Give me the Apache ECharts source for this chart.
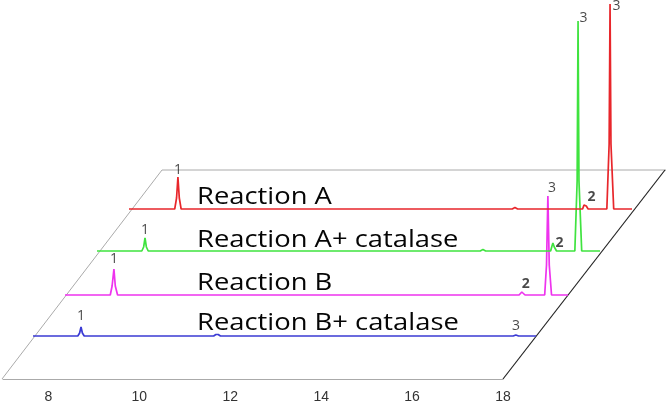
<!DOCTYPE html>
<html>
<head>
<meta charset="utf-8">
<script src="https://cdn.jsdelivr.net/npm/echarts@6/dist/echarts.min.js"></script>
<style>html,body{margin:0;padding:0;background:#fff;}#c{width:666px;height:404px;}</style>
</head>
<body>
<div id="c"></div>
<script>
// ---- data ----
var traceNames = ['Reaction B+ catalase', 'Reaction B', 'Reaction A+ catalase', 'Reaction A'];
var timeRange = [7, 18];
var tickLabels = [8, 10, 12, 14, 16, 18];

var blueTrace = [[7,0],[7.98,0],[8.02,3],[8.05,9],[8.08,3],[8.12,0],[10.95,0],[11.0,1.5],[11.05,1.5],[11.1,0],[17.5,0],[17.56,1],[17.62,0],[18,0]];
var magentaTrace = [[7,0],[7.99,0],[8.03,9],[8.07,26],[8.1,9],[8.15,0],[16.93,0],[16.97,2],[16.99,3],[17.02,1],[17.06,0],[17.49,0],[17.53,30],[17.56,99],[17.59,30],[17.64,0],[18,0]];
var greenTrace = [[7,0],[7.98,0],[8.02,4],[8.05,13],[8.08,4],[8.12,0],[15.38,0],[15.44,1.5],[15.5,0],[16.92,0],[16.95,5],[16.97,8],[17.0,4],[17.05,0],[17.45,0],[17.50,70],[17.52,230],[17.54,70],[17.6,0],[18,0]];
var redTrace = [[7,0],[8.0,0],[8.04,11],[8.07,32],[8.1,11],[8.14,0],[15.38,0],[15.44,1.5],[15.5,0],[16.92,0],[16.95,4],[16.97,6],[17.0,3],[17.04,0],[17.45,0],[17.50,65],[17.52,205],[17.54,65],[17.6,0],[18,0]];

// peak labels: [time, apex height, text]
var bluePeaks = [[8.05, 9, '1'], [17.56, 1, '3']];
var magentaPeaks = [[8.07, 26, '1'], [16.99, 3, '2'], [17.56, 99, '3']];
var greenPeaks = [[8.05, 13, '1'], [16.97, 8, '2'], [17.52, 230, '3']];
var redPeaks = [[8.07, 32, '1'], [16.97, 6, '2'], [17.52, 205, '3']];

// ---- layout / style ----
var traces = [blueTrace, magentaTrace, greenTrace, redTrace];
var peaks = [bluePeaks, magentaPeaks, greenPeaks, redPeaks];
var colors = ['#3b3bd4', '#ee33ee', '#3fe33f', '#e8262b'];
var lefts = [33, 65, 97, 129];
var baselines = [336, 295, 251, 209];
var nameY = [323, 283, 240, 197.5];
var plotW = 503, plotH = 200, yMax = 200;

// label placement per [trace][label]
var labelPlace = [
  [{position:'top', distance:3}, {position:'top', distance:1}],
  [{position:'top', distance:2}, {position:'top', distance:0, offset:[4,0], fontWeight:'bold'}, {position:'top', distance:0, offset:[4,0]}],
  [{position:'top', distance:0}, {position:'right', distance:2, fontWeight:'bold'}, {position:'right', distance:1, offset:[0,-3]}],
  [{position:'top', distance:-1}, {position:'right', distance:2, offset:[0,-6], fontWeight:'bold'}, {position:'right', distance:2, offset:[0,2]}]
];

var grids = [], xAxes = [], yAxes = [], series = [], graphics = [];
for (var i = 0; i < 4; i++) {
  grids.push({left: lefts[i], top: baselines[i] - plotH, width: plotW, height: plotH});
  xAxes.push({type:'value', gridIndex:i, min:timeRange[0], max:timeRange[1], show:false});
  yAxes.push({type:'value', gridIndex:i, min:0, max:yMax, show:false});
  series.push({
    type:'line', xAxisIndex:i, yAxisIndex:i, data:traces[i], symbol:'none', clip:false,
    lineStyle:{color:colors[i], width:1.7}, z: 3 + i, animation:false, silent:true
  });
  series.push({
    type:'scatter', xAxisIndex:i, yAxisIndex:i, clip:false, symbolSize:1, animation:false, silent:true,
    itemStyle:{color:'rgba(0,0,0,0)'}, z: 10,
    data: peaks[i].map(function (p, j) {
      var pl = labelPlace[i][j];
      return {value:[p[0], p[1]], label:Object.assign({show:true, formatter:p[2], color:'#1a1a1a', fontSize:14,
        fontFamily:'Open Sans'}, pl)};
    })
  });
  graphics.push({type:'text', x: 197, y: nameY[i], scaleX: 1.17, z: 1,
    style:{text: traceNames[i], fontSize: 23.4, fontFamily:'Open Sans', fill:'#050505', verticalAlign:'middle', align:'left'}});
}
// bottom axis grid
grids.push({left: 2, top: 170, width: 501, height: 209});
xAxes.push({type:'value', gridIndex:4, min:timeRange[0], max:timeRange[1], interval:1,
  axisLine:{show:true, lineStyle:{color:'#aaa', width:1}}, axisTick:{show:false}, splitLine:{show:false},
  axisLabel:{color:'#333', fontSize:14, fontFamily:'Liberation Sans', margin:11,
    formatter:function (v) { return tickLabels.indexOf(v) >= 0 ? String(v) : ''; }}});
yAxes.push({type:'value', gridIndex:4, show:false, min:0, max:1});

// floor outline
graphics.push({type:'polyline', z:0, shape:{points:[[2,379],[162,170],[666,170]]}, style:{stroke:'#aaa', lineWidth:1, fill:null}});
graphics.push({type:'line', z:0, shape:{x1:503, y1:379, x2:665, y2:170}, style:{stroke:'#222', lineWidth:1.2}});

var chart = echarts.init(document.getElementById('c'), null, {renderer:'canvas'});
chart.setOption({
  animation:false,
  grid: grids, xAxis: xAxes, yAxis: yAxes, series: series, graphic: graphics
});
</script>
</body>
</html>
